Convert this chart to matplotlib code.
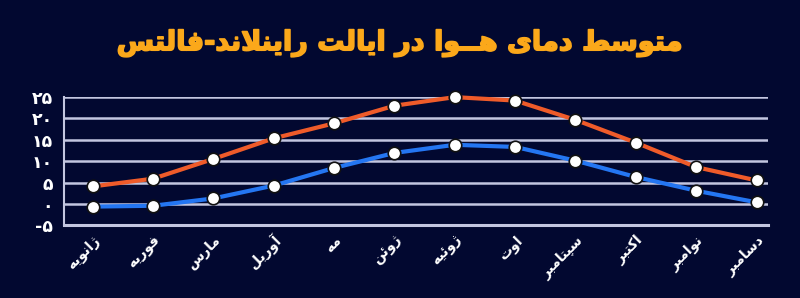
import matplotlib
matplotlib.use("Agg")
import matplotlib.pyplot as plt
import matplotlib.patheffects as pe
from matplotlib.transforms import ScaledTranslation

# Persian text needs manual shaping (matplotlib has no complex text layout)
FORMS = {
    '\u0627': ('\uFE8D', '\uFE8E', None, None),
    '\u0622': ('\uFE81', '\uFE82', None, None),
    '\u0628': ('\uFE8F', '\uFE90', '\uFE91', '\uFE92'),
    '\u067E': ('\uFB56', '\uFB57', '\uFB58', '\uFB59'),
    '\u062A': ('\uFE95', '\uFE96', '\uFE97', '\uFE98'),
    '\u062F': ('\uFEA9', '\uFEAA', None, None),
    '\u0631': ('\uFEAD', '\uFEAE', None, None),
    '\u0632': ('\uFEAF', '\uFEB0', None, None),
    '\u0698': ('\uFB8A', '\uFB8B', None, None),
    '\u0633': ('\uFEB1', '\uFEB2', '\uFEB3', '\uFEB4'),
    '\u0637': ('\uFEC1', '\uFEC2', '\uFEC3', '\uFEC4'),
    '\u0641': ('\uFED1', '\uFED2', '\uFED3', '\uFED4'),
    '\u06A9': ('\uFB8E', '\uFB8F', '\uFB90', '\uFB91'),
    '\u0644': ('\uFEDD', '\uFEDE', '\uFEDF', '\uFEE0'),
    '\u0645': ('\uFEE1', '\uFEE2', '\uFEE3', '\uFEE4'),
    '\u0646': ('\uFEE5', '\uFEE6', '\uFEE7', '\uFEE8'),
    '\u0647': ('\uFEE9', '\uFEEA', '\uFEEB', '\uFEEC'),
    '\u0648': ('\uFEED', '\uFEEE', None, None),
    '\u0626': ('\uFE89', '\uFE8A', '\uFE8B', '\uFE8C'),
    '\u06CC': ('\uFBFC', '\uFBFD', '\uFBFE', '\uFBFF'),
}
TATWEEL = '\u0640'
LAMALEF = {'\u0627': ('\uFEFB', '\uFEFC'), '\u0622': ('\uFEF5', '\uFEF6')}


def joins_left(c):
    return c == TATWEEL or (c in FORMS and FORMS[c][2] is not None)


def fa(text):
    out = []
    i = 0
    while i < len(text):
        c = text[i]
        prev = text[i - 1] if i > 0 else ''
        nxt = text[i + 1] if i + 1 < len(text) else ''
        pj = joins_left(prev)
        if c == '\u0644' and nxt in LAMALEF:
            out.append(LAMALEF[nxt][1 if pj else 0])
            i += 2
            continue
        if c in FORMS:
            iso, fin, ini, med = FORMS[c]
            nj = ini is not None and (nxt in FORMS or nxt == TATWEEL)
            if pj and nj:
                out.append(med)
            elif pj:
                out.append(fin)
            elif nj:
                out.append(ini)
            else:
                out.append(iso)
        else:
            out.append(c)
        i += 1
    return ''.join(out)[::-1]


title = 'متوسط دمای هــوا در ایالت راینلاند-فالتس'
months = ['ژانویه', 'فوریه', 'مارس', 'آوریل', 'مه', 'ژوئن',
          'ژوئیه', 'اوت', 'سپتامبر', 'اکتبر', 'نوامبر', 'دسامبر']
temp_max = [4.1, 5.9, 10.5, 15.3, 18.8, 22.9, 24.9, 24.1, 19.6, 14.3, 8.6, 5.5]
temp_min = [-0.6, -0.4, 1.3, 4.3, 8.4, 11.9, 13.8, 13.3, 10.1, 6.3, 3.1, 0.4]
yticks = [-5, 0, 5, 10, 15, 20, 25]
ytick_labels = ['-۵', '۰', '۵', '۱۰', '۱۵', '۲۰', '۲۵']

bg = '#020830'
grid_c = '#c3c6e0'

fig = plt.figure(figsize=(8, 2.98), dpi=100, facecolor=bg)
ax = fig.add_axes([0.08, 0.2433, 0.88, 0.4322])
ax.set_facecolor(bg)

x = list(range(len(months)))
for vals, col in [(temp_max, '#ef5b2a'), (temp_min, '#2476f2')]:
    ax.plot(x, vals, color=col, lw=3, zorder=3, clip_on=False)
    ax.plot(x, vals, 'o', ms=9, mfc='white', mec='#111111', mew=1.2,
            zorder=4, clip_on=False)

ax.set_xlim(-0.475, 11.19)
ax.set_ylim(-5, 25)
ax.set_yticks(yticks)
ax.set_yticklabels(ytick_labels, color='white', fontsize=12.5, fontweight='bold')
ax.yaxis.grid(True, color=grid_c, lw=1.8)
ax.set_axisbelow(True)
ax.tick_params(axis='y', length=0, pad=8)
ax.tick_params(axis='x', length=0)
for s in ['top', 'right']:
    ax.spines[s].set_visible(False)
ax.spines['left'].set_color(grid_c)
ax.spines['left'].set_linewidth(1.5)
ax.spines['bottom'].set_color(grid_c)
ax.spines['bottom'].set_linewidth(2.2)

ax.set_xticks(x)
ax.set_xticklabels([fa(m) for m in months], rotation=45, ha='right',
                   va='center', rotation_mode='anchor', color='white',
                   fontsize=10, fontweight='bold')
ax.tick_params(axis='x', pad=9)
shift = ScaledTranslation(5 / 100, 0, fig.dpi_scale_trans)
for lab in ax.get_xticklabels():
    lab.set_transform(lab.get_transform() + shift)

fig.text(0.5, 0.855, fa(title), ha='center', va='center', color='#fba81a',
         fontsize=19.5, fontweight='bold',
         path_effects=[pe.withStroke(linewidth=1.2, foreground='#fba81a')])

fig.savefig('out.png', dpi=100, facecolor=bg)
